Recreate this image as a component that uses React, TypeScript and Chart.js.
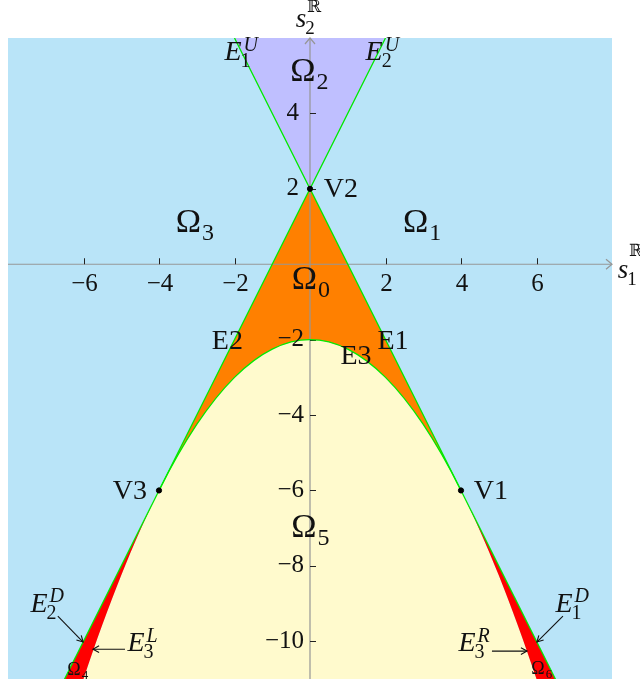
import React, { useEffect, useRef } from "react";
import { Chart, registerables } from "chart.js";

Chart.register(...registerables);

// Window of the (s1, s2) plane
const X_MIN = -8;
const X_MAX = 8;
const Y_MIN = -11;
const Y_MAX = 6;

// Axis ticks
const X_TICKS = [-6, -4, -2, 2, 4, 6];
const Y_TICKS = [4, 2, -2, -4, -6, -8, -10];

// Vertices V1, V2, V3
const VERTEX_X = [4, 0, -4];
const VERTEX_Y = [-6, 2, -6];

// Boundary curve E3 (apex at (0,-2), touching E1 at V1 and E2 at V3)
const CURVE_X = [-7, -6, -5, -4, -3, -2, -1, 0, 1, 2, 3, 4, 5, 6, 7];
const CURVE_Y = [-14.25, -11, -8.25, -6, -4.25, -3, -2.25, -2, -2.25, -3, -4.25, -6, -8.25, -11, -14.25];

// Upper wedge edges E1^U, E2^U meeting at V2
const UPPER_X = [-2, 0, 2];
const UPPER_Y = [6, 2, 6];

// Edges E2 (V3 -> V2) and E1 (V2 -> V1)
const MIDDLE_X = [-4, 0, 4];
const MIDDLE_Y = [-6, 2, -6];

// Continuations E1^D (beyond V1) and E2^D (beyond V3)
const RIGHT_TAIL_X = [4, 7];
const RIGHT_TAIL_Y = [-6, -12];
const LEFT_TAIL_X = [-7, -4];
const LEFT_TAIL_Y = [-12, -6];

const FONT = '"Liberation Serif", "Times New Roman", serif';
const BLUE = "rgb(185,228,248)";
const PURPLE = "rgb(191,191,255)";
const ORANGE = "rgb(255,128,0)";
const YELLOW = "rgb(255,250,205)";
const RED = "rgb(255,0,0)";
const GREEN = "rgb(0,235,0)";
const AXIS = "rgb(150,150,150)";

type Label = {
  base: string;
  sub?: string;
  sup?: string;
  x: number;
  y: number;
  size: number;
  script?: number;
  italic?: boolean;
};

// Region names
const REGION_LABELS: Label[] = [
  { base: "Ω", sub: "2", x: -0.19, y: 5.1, size: 34, script: 24 },
  { base: "Ω", sub: "3", x: -3.22, y: 1.09, size: 34, script: 24 },
  { base: "Ω", sub: "1", x: 2.8, y: 1.09, size: 34, script: 24 },
  { base: "Ω", sub: "0", x: -0.15, y: -0.41, size: 34, script: 24 },
  { base: "Ω", sub: "5", x: -0.16, y: -7.0, size: 34, script: 24 },
  { base: "Ω", sub: "4", x: -6.25, y: -10.76, size: 18, script: 13 },
  { base: "Ω", sub: "6", x: 6.04, y: -10.74, size: 18, script: 13 },
];

// Edge and vertex names
const NAME_LABELS: Label[] = [
  { base: "V2", x: 0.82, y: 1.98, size: 28 },
  { base: "E2", x: -2.19, y: -2.05, size: 28 },
  { base: "E1", x: 2.2, y: -2.05, size: 28 },
  { base: "E3", x: 1.22, y: -2.45, size: 28 },
  { base: "V3", x: -4.77, y: -6.02, size: 28 },
  { base: "V1", x: 4.79, y: -6.02, size: 28 },
  { base: "E", sub: "1", sup: "U", x: -2.04, y: 5.6, size: 28, script: 20, italic: true },
  { base: "E", sub: "2", sup: "U", x: 1.7, y: 5.6, size: 28, script: 20, italic: true },
  { base: "E", sub: "2", sup: "D", x: -7.18, y: -9.02, size: 28, script: 20, italic: true },
  { base: "E", sub: "1", sup: "D", x: 6.73, y: -9.02, size: 28, script: 20, italic: true },
  { base: "E", sub: "3", sup: "L", x: -4.61, y: -10.07, size: 28, script: 20, italic: true },
  { base: "E", sub: "3", sup: "R", x: 4.16, y: -10.07, size: 28, script: 20, italic: true },
];

// Pointers from edge names to their edges: [fromX, fromY, toX, toY]
const POINTERS: number[][] = [
  [-6.68, -9.33, -6.01, -10.02],
  [6.7, -9.33, 6.01, -10.02],
  [-4.9, -10.21, -5.75, -10.21],
  [4.82, -10.26, 5.75, -10.26],
];

const pts = (xs: number[], ys: number[]) => xs.map((x, i) => ({ x, y: ys[i] }));
const fmt = (v: number) => (v < 0 ? "\u2212" + Math.abs(v) : String(v));

function drawMath(ctx: CanvasRenderingContext2D, px: number, py: number, l: Label) {
  const size = l.size;
  ctx.font = `${l.italic ? "italic " : ""}${size}px ${FONT}`;
  ctx.textAlign = "center";
  ctx.textBaseline = "middle";
  ctx.fillText(l.base, px, py);
  const w = ctx.measureText(l.base).width;
  const sx = px + w / 2 + 1;
  const ss = l.script ?? Math.round(size * 0.7);
  ctx.textAlign = "left";
  if (l.sub) {
    ctx.font = `${ss}px ${FONT}`;
    ctx.fillText(l.sub, sx - (l.italic ? 2 : 0), py + size * 0.32);
  }
  if (l.sup) {
    ctx.font = `italic ${ss}px ${FONT}`;
    ctx.fillText(l.sup, sx + 1, py - size * 0.27);
  }
}

function drawArrow(ctx: CanvasRenderingContext2D, x1: number, y1: number, x2: number, y2: number) {
  ctx.beginPath();
  ctx.moveTo(x1, y1);
  ctx.lineTo(x2, y2);
  ctx.stroke();
  const a = Math.atan2(y2 - y1, x2 - x1);
  const L = 7;
  ctx.beginPath();
  ctx.moveTo(x2 - L * Math.cos(a - 0.5), y2 - L * Math.sin(a - 0.5));
  ctx.lineTo(x2, y2);
  ctx.lineTo(x2 - L * Math.cos(a + 0.5), y2 - L * Math.sin(a + 0.5));
  ctx.stroke();
}

const backgroundPlugin = {
  id: "planeBackground",
  beforeDraw(chart: any) {
    const { ctx, chartArea: a } = chart;
    ctx.save();
    ctx.fillStyle = BLUE;
    ctx.fillRect(a.left, a.top, a.right - a.left, a.bottom - a.top);
    ctx.restore();
  },
};

const axesPlugin = {
  id: "planeAxes",
  beforeDatasetsDraw(chart: any) {
    const { ctx, chartArea: a } = chart;
    const xs = chart.scales.x;
    const ys = chart.scales.y;
    const x0 = xs.getPixelForValue(0);
    const y0 = ys.getPixelForValue(0);
    ctx.save();
    ctx.strokeStyle = AXIS;
    ctx.lineWidth = 1.2;
    ctx.beginPath();
    ctx.moveTo(a.left, y0);
    ctx.lineTo(a.right, y0);
    ctx.moveTo(x0, a.bottom);
    ctx.lineTo(x0, a.top);
    ctx.stroke();
    // arrow tips
    ctx.beginPath();
    ctx.moveTo(a.right - 6, y0 - 5);
    ctx.lineTo(a.right, y0);
    ctx.lineTo(a.right - 6, y0 + 5);
    ctx.moveTo(x0 - 5, a.top + 6);
    ctx.lineTo(x0, a.top);
    ctx.lineTo(x0 + 5, a.top + 6);
    ctx.stroke();
    // tick marks
    ctx.strokeStyle = "#222";
    ctx.lineWidth = 1;
    ctx.beginPath();
    for (const v of X_TICKS) {
      const p = Math.round(xs.getPixelForValue(v)) + 0.5;
      ctx.moveTo(p, y0);
      ctx.lineTo(p, y0 - 6);
    }
    for (const v of Y_TICKS) {
      const p = Math.round(ys.getPixelForValue(v)) + 0.5;
      ctx.moveTo(x0, p);
      ctx.lineTo(x0 + 6, p);
    }
    ctx.stroke();
    ctx.restore();
  },
  afterDatasetsDraw(chart: any) {
    const { ctx } = chart;
    const xs = chart.scales.x;
    const ys = chart.scales.y;
    const x0 = xs.getPixelForValue(0);
    const y0 = ys.getPixelForValue(0);
    ctx.save();
    ctx.fillStyle = "#111";
    ctx.strokeStyle = "#111";
    // tick labels
    ctx.font = `25px ${FONT}`;
    ctx.textBaseline = "middle";
    ctx.textAlign = "center";
    for (const v of X_TICKS) ctx.fillText(fmt(v), xs.getPixelForValue(v) + 1, y0 + 20);
    ctx.textAlign = "right";
    for (const v of Y_TICKS) ctx.fillText(fmt(v), x0 - (v < 0 ? 6 : 11), ys.getPixelForValue(v));
    // axis names
    drawMath(ctx, xs.getPixelForValue(8.29), ys.getPixelForValue(-0.19), {
      base: "s", sub: "1", x: 0, y: 0, size: 27, script: 19, italic: true,
    });
    ctx.font = `17px "DejaVu Serif", ${FONT}`;
    ctx.textAlign = "left";
    ctx.fillText("ℝ", xs.getPixelForValue(8.29) + 6, ys.getPixelForValue(0.33));
    drawMath(ctx, xs.getPixelForValue(-0.24), ys.getPixelForValue(6.48), {
      base: "s", sub: "2", x: 0, y: 0, size: 27, script: 19, italic: true,
    });
    ctx.font = `17px "DejaVu Serif", ${FONT}`;
    ctx.textAlign = "left";
    ctx.fillText("ℝ", xs.getPixelForValue(-0.24) + 6, ys.getPixelForValue(6.8));
    // names
    for (const l of [...REGION_LABELS, ...NAME_LABELS]) {
      drawMath(ctx, xs.getPixelForValue(l.x), ys.getPixelForValue(l.y), l);
    }
    ctx.lineWidth = 1.1;
    for (const [ax, ay, bx, by] of POINTERS) {
      drawArrow(ctx, xs.getPixelForValue(ax), ys.getPixelForValue(ay), xs.getPixelForValue(bx), ys.getPixelForValue(by));
    }
    ctx.restore();
  },
};

export default function App() {
  const ref = useRef<HTMLCanvasElement>(null);

  useEffect(() => {
    const canvas = ref.current;
    if (!canvas) return;
    const edge = { borderColor: GREEN, borderWidth: 1.3, pointRadius: 0, showLine: true, tension: 0 };
    const chart = new Chart(canvas, {
      type: "scatter",
      data: {
        datasets: [
          {
            // 0: vertices
            data: pts(VERTEX_X, VERTEX_Y),
            pointRadius: 2.6,
            pointBackgroundColor: "#000",
            pointBorderColor: "#000",
            showLine: false,
          },
          {
            // 1: upper wedge Ω2
            ...edge,
            data: pts(UPPER_X, UPPER_Y),
            fill: "end",
            backgroundColor: PURPLE,
          },
          {
            // 2: Ω0 between E1/E2 and E3
            ...edge,
            data: pts(MIDDLE_X, MIDDLE_Y),
            fill: { target: 5 },
            backgroundColor: ORANGE,
          },
          {
            // 3: Ω6 between E1^D and E3^R
            ...edge,
            data: pts(RIGHT_TAIL_X, RIGHT_TAIL_Y),
            fill: { target: 5 },
            backgroundColor: RED,
          },
          {
            // 4: Ω4 between E2^D and E3^L
            ...edge,
            data: pts(LEFT_TAIL_X, LEFT_TAIL_Y),
            fill: { target: 5 },
            backgroundColor: RED,
          },
          {
            // 5: curve E3, Ω5 below it
            data: pts(CURVE_X, CURVE_Y),
            showLine: true,
            pointRadius: 0,
            borderWidth: 1.3,
            cubicInterpolationMode: "monotone",
            fill: "start",
            backgroundColor: YELLOW,
            borderColor: GREEN,
            segment: {
              borderColor: (c: any) =>
                c.p0.parsed.x >= -4 && c.p1.parsed.x <= 4 ? GREEN : "rgba(0,0,0,0)",
            },
          },
        ] as any,
      },
      options: {
        responsive: false,
        animation: false,
        devicePixelRatio: 1,
        events: [],
        layout: { padding: { left: 8, right: 28, top: 38, bottom: 4 } },
        scales: {
          x: { type: "linear", min: X_MIN, max: X_MAX, display: false },
          y: { type: "linear", min: Y_MIN, max: Y_MAX, display: false },
        },
        plugins: {
          legend: { display: false },
          tooltip: { enabled: false },
          filler: { drawTime: "beforeDatasetsDraw" },
        } as any,
      },
      plugins: [backgroundPlugin, axesPlugin],
    });
    return () => chart.destroy();
  }, []);

  return (
    <canvas
      ref={ref}
      width={640}
      height={684}
      style={{ position: "absolute", left: 0, top: 0, display: "block" }}
    />
  );
}
